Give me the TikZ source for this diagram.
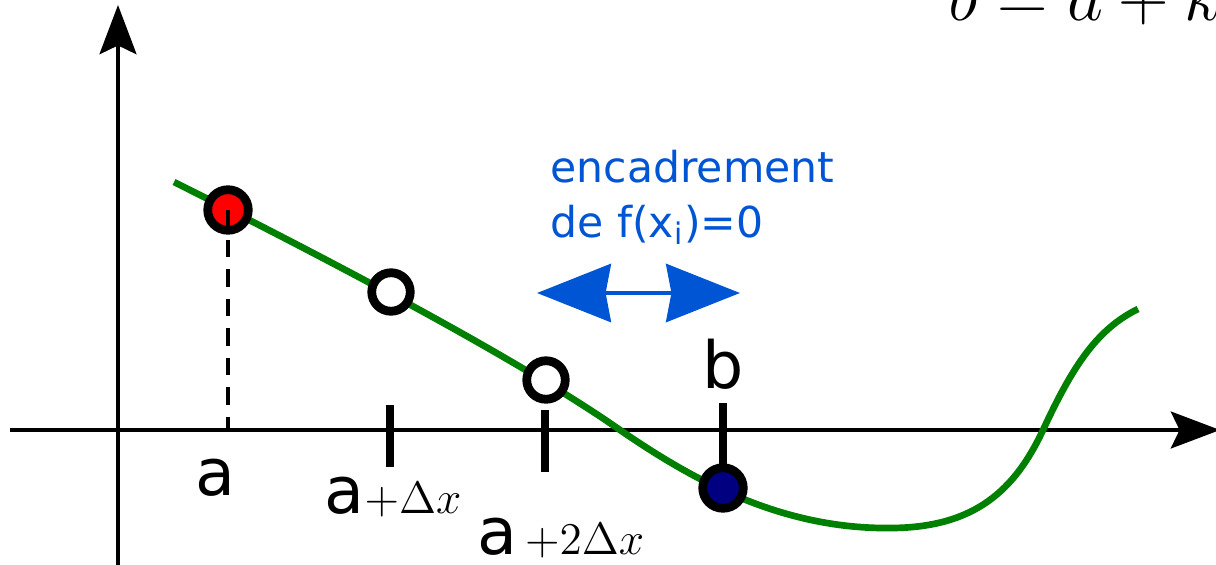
\RequirePackage{fix-cm}
\documentclass[tikz,border=0pt]{standalone}
\usepackage{fontspec}
\newfontfamily\lblfont{DejaVu Sans}
\usetikzlibrary{arrows.meta,positioning}
\definecolor{encblue}{RGB}{0,85,212}
\definecolor{curvegreen}{RGB}{0,128,0}
\definecolor{ptnavy}{RGB}{0,0,128}
\tikzset{
    axisline/.style={line width=1pt, -{Stealth[length=14pt, width=10.5pt, inset=2.5pt]}},
    fcurve/.style={curvegreen, line width=1.9pt},
    ptdot/.style={circle, draw=black, line width=2.5pt, inner sep=0pt, minimum size=0.4cm},
    tickmark/.style={line width=2.4pt},
    lbl/.style={inner sep=0pt, font=\lblfont\fontsize{18.5}{20}\selectfont},
    encarrow/.style={encblue, line width=1.3pt,
        {Stealth[length=21pt, width=16.5pt, inset=1.5pt]}-{Stealth[length=21pt, width=16.5pt, inset=1.5pt]}}
}

\begin{document}
\begin{tikzpicture}[x=0.01cm, y=-0.01cm]
\useasboundingbox (0,0) rectangle (1216,564);
% axes
\coordinate (ybot) at (118,570);
\coordinate (ytop) at (118,5);
\coordinate (xleft) at (10,430);
\coordinate (xright) at (1220,430);
\draw[axisline] (ybot) -- (ytop);
\draw[axisline] (xleft) -- (xright);
% curve
\draw[fcurve] (174,182) .. controls (330,260) and (520,360) .. (620,430)
    .. controls (690,478) and (780,530) .. (893,528)
    .. controls (975,527) and (1015,490) .. (1043,430)
    .. controls (1071,370) and (1095,330) .. (1138,309);
% ticks
\draw[tickmark] (390,405) -- (390,467);
\draw[tickmark] (545,410) -- (545,472);
\draw[tickmark] (723,403) -- (723,488);
% points
\node[ptdot, fill=red, minimum size=0.405cm] (pa) at (228,210) {};
\node[ptdot, fill=white, minimum size=0.385cm] (p1) at (391,292) {};
\node[ptdot, fill=white, minimum size=0.385cm] (p2) at (546,380) {};
\node[ptdot, fill=ptnavy, minimum size=0.405cm] (pb) at (723,488) {};
\coordinate (xa) at (228,430);
\draw[line width=0.9pt, dash pattern=on 5pt off 3.4pt] (pa.center) -- (xa);
% labels
\node[lbl, anchor=base] (la) at (215,495) {a};
\node[lbl, anchor=base west] (la1) at (324,513) {a{\fontsize{12.9}{14}\selectfont$+\Delta x$}};
\node[lbl, anchor=base west] (la2) at (477,554) {a{\fontsize{12.9}{14}\selectfont$\,+2\Delta x$}};
\node[lbl, anchor=base] (lb) at (723,388) {b};
\node[inner sep=0pt, anchor=base west, align=left, text=encblue,
    font=\lblfont\fontsize{12.1}{15.4}\selectfont] (enc) at (550,237)
    {encadrement\\de f(x\textsubscript{i})=0};
\coordinate (encl) at (537,293);
\coordinate (encr) at (740,293);
\draw[encarrow] (encl) -- (encr);
% formula, cut by the frame
\node[inner sep=0pt, anchor=base west, font=\fontsize{19.9}{22}\selectfont] (formula) at (948,21)
    {$b = a + k\Delta x$};
\end{tikzpicture}
\end{document}
